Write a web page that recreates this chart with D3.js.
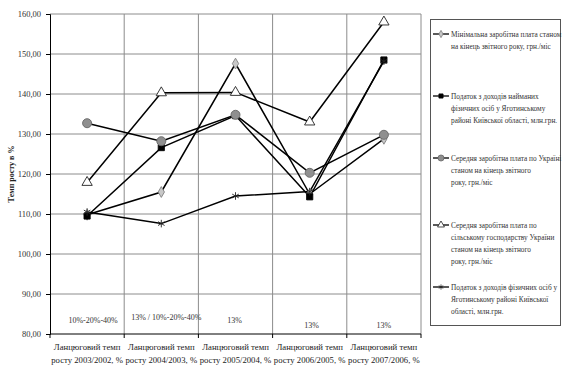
<!DOCTYPE html>
<html lang="uk">
<head>
<meta charset="utf-8">
<script src="https://d3js.org/d3.v7.min.js"></script>
<style>
  body { margin: 0; background: #fff; }
  svg, svg text, svg tspan { font-family: "Liberation Serif", "Times New Roman", Times, "DejaVu Serif", serif !important; }
  .tick text { fill: #333; font-size: 8.5px; }
  .grid line { stroke: #8c8c8c; stroke-width: 1; }
  .xlab { font-size: 8.7px; fill: #222; }
  .note { font-size: 8px; fill: #333; }
  .leg text { font-size: 7.3px; fill: #333; }
</style>
</head>
<body>
<svg width="562" height="373"></svg>
<script>
  // categories
  const categories = ['2003/2002', '2004/2003', '2005/2004', '2006/2005', '2007/2006'];

  // series values (темп росту, %)
  const minWage    = [109.8, 115.5, 147.6, 115.0, 128.8];
  const taxHired   = [109.5, 126.6, 134.6, 114.3, 148.5];
  const avgUkraine = [132.7, 128.2, 134.8, 120.3, 129.8];
  const avgAgro    = [117.9, 140.3, 140.4, 133.0, 158.0];
  const taxPersons = [110.5, 107.6, 114.5, 115.6, 148.2];

  const yTicks = [80, 90, 100, 110, 120, 130, 140, 150, 160];

  // notes above the x axis
  const notes = ['10%-20%-40%', '13% / 10%-20%-40%', '13%', '13%', '13%'];

  const legendNames = [
    ['Мінімальна заробітна плата станом', 'на кінець звітного року, грн./міс'],
    ['Податок з доходів найманих', 'фізичних осіб у Яготинському', 'районі Київської області, млн.грн.'],
    ['Середня заробітна плата по Україні', 'станом на кінець звітного', 'року, грн./міс'],
    ['Середня заробітна плата по', 'сільському господарству  України', 'станом на кінець звітного', 'року, грн./міс'],
    ['Податок з доходів фізичних  осіб у', 'Яготинському районі Київської', 'області, млн.грн.']
  ];

  const series = [
    { values: minWage,    sym: d3.symbolDiamond,  size: 34, fill: '#c8c8c8', stroke: '#808080' },
    { values: taxHired,   sym: d3.symbolSquare,   size: 38, fill: '#000',    stroke: '#000' },
    { values: avgUkraine, sym: d3.symbolCircle,   size: 64, fill: '#8f8f8f', stroke: '#666' },
    { values: avgAgro,    sym: d3.symbolTriangle, size: 46, fill: '#fff',    stroke: '#222' },
    { values: taxPersons, sym: d3.symbolAsterisk, size: 40, fill: 'none',    stroke: '#222' }
  ];

  const svg = d3.select('svg');
  const plotL = 50, plotR = 421, plotT = 14, plotB = 334;

  const x = d3.scaleBand().domain(categories).range([plotL, plotR]);
  const y = d3.scaleLinear().domain([80, 160]).range([plotB, plotT]);
  const cx = d => x(d) + x.bandwidth() / 2;

  // horizontal grid
  svg.append('g').attr('class', 'grid')
    .selectAll('line').data(yTicks.slice(1)).enter().append('line')
      .attr('x1', plotL).attr('x2', plotR)
      .attr('y1', d => y(d)).attr('y2', d => y(d));

  // vertical grid
  svg.append('g').attr('class', 'grid')
    .selectAll('line').data(categories.slice(1)).enter().append('line')
      .attr('x1', d => x(d)).attr('x2', d => x(d))
      .attr('y1', plotT).attr('y2', plotB);
  svg.append('line').attr('x1', plotR).attr('x2', plotR).attr('y1', plotT).attr('y2', plotB)
    .attr('stroke', '#8c8c8c');

  // y axis
  const yAxis = d3.axisLeft(y).tickValues(yTicks).tickSize(4).tickPadding(5)
    .tickFormat(d => d3.format('.2f')(d).replace('.', ','));
  const yG = svg.append('g').attr('transform', `translate(${plotL},0)`).call(yAxis);
  yG.attr('font-family', null);
  yG.select('.domain').attr('stroke', '#000');
  yG.selectAll('.tick line').attr('stroke', '#000');

  // x axis line with ticks at the band edges
  svg.append('line').attr('x1', plotL).attr('x2', plotR).attr('y1', plotB).attr('y2', plotB)
    .attr('stroke', '#000');
  svg.append('g').selectAll('line').data(categories.concat(['end'])).enter().append('line')
    .attr('x1', (d, i) => i < categories.length ? x(d) : plotR)
    .attr('x2', (d, i) => i < categories.length ? x(d) : plotR)
    .attr('y1', plotB).attr('y2', plotB + 4).attr('stroke', '#000');

  // x labels
  const xl = svg.append('g').selectAll('text').data(categories).enter().append('text')
    .attr('class', 'xlab').attr('text-anchor', 'middle');
  xl.append('tspan').attr('x', d => cx(d)).attr('y', 350).text('Ланцюговий темп');
  xl.append('tspan').attr('x', d => cx(d)).attr('y', 363).text(d => `росту ${d}, %`);

  // y title
  svg.append('text')
    .attr('transform', 'translate(14,174) rotate(-90)')
    .attr('text-anchor', 'middle')
    .style('font-size', '8px').style('font-weight', 'bold').style('fill', '#222')
    .text('Темп росту в %');

  // notes
  const noteDx = [6, 5, -1, 2, 0];
  const noteY = [323, 320, 323, 328, 328];
  svg.append('g').selectAll('text').data(notes).enter().append('text')
    .attr('class', 'note').attr('text-anchor', 'middle')
    .attr('x', (d, i) => cx(categories[i]) + noteDx[i])
    .attr('y', (d, i) => noteY[i])
    .text(d => d);

  // lines + markers
  const line = d3.line().x((d, i) => cx(categories[i])).y(d => y(d));
  series.forEach(s => {
    svg.append('path').datum(s.values).attr('d', line)
      .attr('fill', 'none').attr('stroke', '#000').attr('stroke-width', 1.5);
  });
  series.forEach(s => {
    svg.append('g').selectAll('path').data(s.values).enter().append('path')
      .attr('transform', (d, i) => `translate(${cx(categories[i])},${y(d)})`)
      .attr('d', d3.symbol(s.sym, s.size))
      .attr('fill', s.fill).attr('stroke', s.stroke).attr('stroke-width', 0.9);
  });

  // legend
  const lg = svg.append('g').attr('class', 'leg');
  lg.append('rect').attr('x', 430.5).attr('y', 19.5).attr('width', 130).attr('height', 306)
    .attr('fill', '#fff').attr('stroke', '#555');
  const legY = [37, 99, 161, 228, 290];
  series.forEach((s, i) => {
    const g = lg.append('g').attr('transform', `translate(0,${legY[i]})`);
    g.append('line').attr('x1', 433).attr('x2', 449).attr('y1', -3).attr('y2', -3)
      .attr('stroke', '#000').attr('stroke-width', 1.3);
    g.append('path').attr('transform', 'translate(441,-3)')
      .attr('d', d3.symbol(s.sym, s.size * 0.45))
      .attr('fill', s.fill).attr('stroke', s.stroke).attr('stroke-width', 0.8);
    g.append('text').selectAll('tspan').data(legendNames[i]).enter().append('tspan')
      .attr('x', 451).attr('y', (d, j) => j * 12).text(d => d);
  });
</script>
</body>
</html>
